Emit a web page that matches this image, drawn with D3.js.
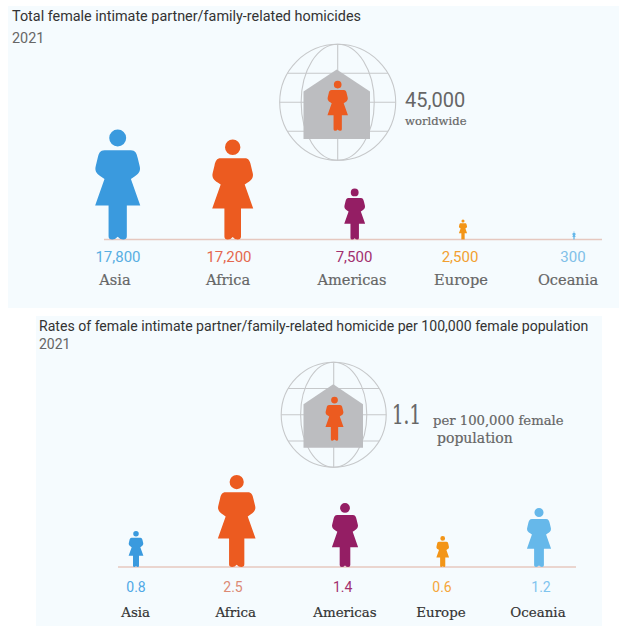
<!DOCTYPE html>
<html>
<head>
<meta charset="utf-8">
<script src="https://cdnjs.cloudflare.com/ajax/libs/d3/7.8.5/d3.min.js"></script>
<style>
    body { margin: 0; background: #fff; }
    svg { display: block; }
    text { font-family: Roboto, sans-serif; }
    .slab { font-family: "DejaVu Serif", serif; stroke: currentColor; stroke-width: 0.2; }
</style>
</head>
<body>
<svg id="chart" width="619" height="626"></svg>
<script>
// Chart data
const regions = ["Asia", "Africa", "Americas", "Europe", "Oceania"];
const totals = [17800, 17200, 7500, 2500, 300];
const rates = [0.8, 2.5, 1.4, 0.6, 1.2];
const regionColors = ["#3a9ade", "#ec5b20", "#941e64", "#f39517", "#66b8ea"];
const totalLabelColors = ["#58aee2", "#e4684f", "#a2306f", "#f2a030", "#80c0e8"];
const rateLabelColors = ["#4fa8e6", "#dc8a74", "#a2306f", "#f5a63a", "#80c4ee"];

const totalTitle = "Total female intimate partner/family-related homicides";
const rateTitle = "Rates of female intimate partner/family-related homicide per 100,000 female population";
const year = "2021";

const svg = d3.select("#chart");

// Woman icon, 1 unit tall, standing on y = 0, centred on x = 0
function womanPath() {
    const p = d3.path();
    p.moveTo(0.077, -0.923);
    p.arc(0, -0.923, 0.077, 0, Math.PI * 2);
    p.closePath();
    p.moveTo(-0.12, -0.812);
    p.lineTo(0.12, -0.812);
    p.bezierCurveTo(0.16, -0.812, 0.172, -0.785, 0.182, -0.74);
    p.lineTo(0.2, -0.665);
    p.bezierCurveTo(0.212, -0.62, 0.185, -0.59, 0.15, -0.57);
    p.lineTo(0.12, -0.55);
    p.lineTo(0.205, -0.31);
    p.lineTo(0.083, -0.31);
    p.lineTo(0.083, -0.03);
    p.quadraticCurveTo(0.083, 0, 0.05, 0);
    p.quadraticCurveTo(0.02, 0, 0, -0.025);
    p.quadraticCurveTo(-0.02, 0, -0.05, 0);
    p.quadraticCurveTo(-0.083, 0, -0.083, -0.03);
    p.lineTo(-0.083, -0.31);
    p.lineTo(-0.205, -0.31);
    p.lineTo(-0.12, -0.55);
    p.lineTo(-0.15, -0.57);
    p.bezierCurveTo(-0.185, -0.59, -0.212, -0.62, -0.2, -0.665);
    p.lineTo(-0.182, -0.74);
    p.bezierCurveTo(-0.172, -0.785, -0.16, -0.812, -0.12, -0.812);
    p.closePath();
    return p.toString();
}
const woman = womanPath();

// Globe with the house and the woman in front of it
function drawGlobe(cx, cy, r, house, figure) {
    const g = svg.append("g")
        .attr("fill", "none")
        .attr("stroke", "#c6c8ca")
        .attr("stroke-width", 1.1);
    g.append("circle").attr("cx", cx).attr("cy", cy).attr("r", r);
    g.append("ellipse").attr("cx", cx).attr("cy", cy).attr("rx", r * 0.63).attr("ry", r);
    g.append("line").attr("x1", cx).attr("x2", cx).attr("y1", cy - r).attr("y2", cy + r);
    [-0.5, 0, 0.5].forEach(k => {
        const dx = Math.sqrt(1 - k * k) * r;
        g.append("line")
            .attr("x1", cx - dx).attr("x2", cx + dx)
            .attr("y1", cy + k * r).attr("y2", cy + k * r);
    });
    const hp = d3.path();
    hp.moveTo(house.left, house.bottom);
    hp.lineTo(house.left, house.eave);
    hp.lineTo((house.left + house.right) / 2, house.peak);
    hp.lineTo(house.right, house.eave);
    hp.lineTo(house.right, house.bottom);
    hp.closePath();
    svg.append("path").attr("d", hp.toString()).attr("fill", "#bcbdc0");
    svg.append("path")
        .attr("d", woman)
        .attr("fill", regionColors[1])
        .attr("transform", `translate(${figure.x},${figure.base}) scale(${figure.h})`);
}

// One row of women on a base line, with value and region labels
function drawRow(o) {
    svg.append("line")
        .attr("x1", o.lineX[0]).attr("x2", o.lineX[1])
        .attr("y1", o.base).attr("y2", o.base)
        .attr("stroke", "#e6c8bf")
        .attr("stroke-width", 1.5);

    svg.selectAll(null)
        .data(regions)
        .join("path")
        .attr("d", woman)
        .attr("fill", (d, i) => regionColors[i])
        .attr("transform", (d, i) => `translate(${o.x(d)},${o.base}) scale(${o.h(o.values[i])})`);

    svg.selectAll(null)
        .data(regions)
        .join("text")
        .attr("x", d => o.valueX(d))
        .attr("y", o.valueY)
        .attr("text-anchor", "middle")
        .attr("font-size", o.valueSize)
        .attr("fill", (d, i) => o.labelColors[i])
        .text((d, i) => o.format(o.values[i]));

    svg.selectAll(null)
        .data(regions)
        .join("text")
        .attr("class", "slab")
        .attr("x", d => o.nameX(d))
        .attr("y", o.nameY)
        .attr("text-anchor", "middle")
        .attr("font-size", o.nameSize)
        .attr("fill", o.nameColor)
        .style("color", o.nameColor)
        .text(d => d);
}

function addText(str, x, y, size, color, cls) {
    return svg.append("text")
        .attr("class", cls || null)
        .attr("x", x).attr("y", y)
        .attr("font-size", size)
        .attr("fill", color)
        .style("color", color)
        .text(str);
}

// Top panel
svg.append("rect").attr("x", 8).attr("y", 6).attr("width", 611).attr("height", 302).attr("fill", "#f5fbfe");
addText(totalTitle, 12, 21, 14.4, "#333");
addText(year, 12, 43, 14.4, "#666");
drawGlobe(337.7, 102.3, 58,
    { left: 303.5, right: 370, peak: 69.5, eave: 91.5, bottom: 139 },
    { x: 337.7, base: 130.7, h: 50 });
addText("45,000", 405, 107, 20, "#666");
addText("worldwide", 405, 125, 11.6, "#666", "slab");

drawRow({
    values: totals,
    base: 239.5,
    lineX: [104, 602],
    x: d3.scaleOrdinal().domain(regions).range([117.7, 232.7, 354.7, 463, 574]),
    valueX: d3.scaleOrdinal().domain(regions).range([118, 229, 354, 460, 573]),
    nameX: d3.scaleOrdinal().domain(regions).range([115, 228, 352, 461, 568]),
    h: d3.scaleLinear().domain([300, 2500, 7500, 17200, 17800]).range([8, 20, 51, 100, 110]),
    format: d3.format(","),
    labelColors: totalLabelColors,
    valueY: 262, valueSize: 15,
    nameY: 285, nameSize: 14.6, nameColor: "#666"
});

// Bottom panel
svg.append("rect").attr("x", 36).attr("y", 316).attr("width", 566).attr("height", 310).attr("fill", "#f5fbfe");
addText(rateTitle, 39, 331, 14.1, "#333");
addText(year, 39, 349, 14, "#666");
drawGlobe(333.7, 414.7, 52.5,
    { left: 303.5, right: 363, peak: 384.3, eave: 404.3, bottom: 447.7 },
    { x: 334.5, base: 440.7, h: 44 });
addText("1.1", 392, 424, 26, "#666", "slab")
    .attr("textLength", 29)
    .attr("lengthAdjust", "spacingAndGlyphs");
addText("per 100,000 female", 433, 425, 13.2, "#666", "slab");
addText("population", 437, 443, 14, "#666", "slab");

drawRow({
    values: rates,
    base: 567,
    lineX: [118, 576],
    x: d3.scaleOrdinal().domain(regions).range([136, 236.7, 345, 442.7, 539]),
    valueX: d3.scaleOrdinal().domain(regions).range([136, 233, 342.7, 442, 541]),
    nameX: d3.scaleOrdinal().domain(regions).range([135.7, 235.7, 345, 441, 538]),
    h: d3.scaleLinear().domain([0.6, 0.8, 1.2, 1.4, 2.5]).range([31, 36, 59, 64, 92]),
    format: d3.format(".1f"),
    labelColors: rateLabelColors,
    valueY: 591.5, valueSize: 14,
    nameY: 617, nameSize: 13.4, nameColor: "#333"
});
</script>
</body>
</html>
